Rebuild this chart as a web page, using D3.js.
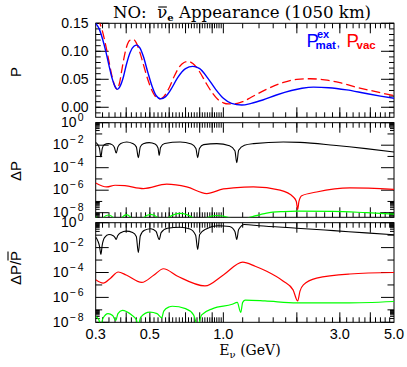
<!DOCTYPE html>
<html><head><meta charset="utf-8">
<script src="https://cdn.jsdelivr.net/npm/d3@7"></script>
<style>body{margin:0;background:#fff}svg{display:block}</style>
</head><body>
<svg id="c" width="407" height="367"></svg>
<script>
// ---------- DATA ----------
// Panel 1: probabilities
const E_vac = [0.300,0.310,0.320,0.330,0.340,0.350,0.360,0.367,0.375,0.385,0.395,0.405,0.415,0.428,0.440,0.455,0.470,0.490,0.510,0.530,0.550,0.570,0.600,0.630,0.660,0.690,0.718,0.750,0.800,0.850,0.900,0.950,1.000,1.050,1.100,1.200,1.300,1.500,1.750,2.000,2.270,2.600,3.000,3.500,4.000,4.500,5.000];
const P_vac = [0.156,0.152,0.135,0.110,0.082,0.055,0.037,0.032,0.042,0.070,0.096,0.113,0.120,0.121,0.115,0.098,0.077,0.050,0.030,0.018,0.015,0.019,0.035,0.056,0.072,0.080,0.082,0.078,0.063,0.043,0.026,0.014,0.008,0.006,0.006,0.010,0.018,0.032,0.044,0.050,0.051,0.049,0.044,0.036,0.030,0.025,0.021];
const E_mat = [0.300,0.310,0.320,0.330,0.340,0.350,0.360,0.368,0.377,0.390,0.400,0.415,0.430,0.442,0.455,0.470,0.490,0.510,0.530,0.554,0.580,0.610,0.650,0.700,0.749,0.800,0.860,0.930,1.000,1.080,1.190,1.300,1.450,1.650,1.900,2.100,2.340,2.700,3.200,3.800,4.400,5.000];
const P_mat = [0.150,0.140,0.122,0.100,0.075,0.052,0.037,0.032,0.037,0.055,0.075,0.098,0.109,0.111,0.106,0.091,0.063,0.038,0.021,0.015,0.019,0.032,0.053,0.069,0.073,0.069,0.053,0.032,0.016,0.007,0.004,0.007,0.013,0.022,0.030,0.034,0.036,0.035,0.031,0.025,0.020,0.016];

// Panel 2: Delta P
const E_dPk = [0.300,0.306,0.311,0.315,0.319,0.325,0.338,0.350,0.358,0.364,0.370,0.380,0.402,0.425,0.440,0.4485,0.457,0.470,0.497,0.525,0.540,0.546,0.553,0.575,0.665,0.740,0.772,0.785,0.798,0.830,0.940,1.060,1.115,1.135,1.155,1.220,1.330,1.760,2.060,2.830,3.840,5.000];
const dPk = [1.78e-2,1.12e-2,5.0e-3,8.9e-4,5.0e-3,1.12e-2,1.38e-2,1.12e-2,6.3e-3,2.0e-3,7.1e-3,1.41e-2,1.9e-2,1.41e-2,7.1e-3,7.9e-4,7.1e-3,1.32e-2,1.7e-2,1.26e-2,5.6e-3,1.26e-3,6.3e-3,1.41e-2,1.9e-2,1.26e-2,5.0e-3,7.9e-4,5.0e-3,1.12e-2,1.38e-2,8.9e-3,3.2e-3,2.75e-4,3.5e-3,1.0e-2,1.38e-2,1.9e-2,1.78e-2,1.0e-2,5.0e-3,2.5e-3];
const E_dPr = [0.300,0.333,0.360,0.395,0.470,0.586,0.708,0.855,1.000,1.099,1.327,1.707,1.935,1.990,2.016,2.040,2.094,2.410,3.300,5.000];
const dPr = [4.4e-6,1.95e-6,2.75e-6,2.5e-6,1.4e-6,3.4e-6,1.95e-6,5.0e-7,1.3e-6,1.6e-6,1.95e-6,1.0e-6,2.5e-7,1.0e-7,1.9e-8,1.0e-7,3.2e-7,6.9e-7,1.6e-6,1.2e-6];
const E_dPg = [0.300,0.307,0.315,0.322,0.338,0.355,0.364,0.383,0.402,0.420,0.4485,0.470,0.504,0.540,0.565,0.595,0.665,0.750,0.800,0.855,0.939,1.060,1.150,1.266,1.327,1.505,1.761,2.016,2.820,3.860,5.000];
const dPg = [4.4e-9,2.5e-9,6.3e-10,3.5e-9,6.2e-9,3.5e-9,6.3e-10,3.5e-9,6.6e-9,3.5e-9,6.3e-10,3.5e-9,7.1e-9,3.5e-9,6.3e-10,3.5e-9,8.7e-9,3.5e-9,6.3e-10,3.5e-9,5.6e-9,3.5e-9,6.3e-10,3.5e-9,4.7e-9,9.3e-9,1.26e-8,1.38e-8,1.32e-8,1.0e-8,7.6e-9];

// Panel 3: Delta P / P-bar
const E_rk = [0.300,0.306,0.311,0.315,0.319,0.326,0.340,0.354,0.360,0.364,0.369,0.380,0.400,0.425,0.440,0.4485,0.457,0.475,0.505,0.530,0.546,0.556,0.590,0.665,0.730,0.770,0.785,0.800,0.850,0.950,1.060,1.115,1.135,1.155,1.220,1.400,2.000,2.830,3.840,5.000];
const rk = [7.1e-2,3.5e-2,1.26e-2,2.8e-3,1.6e-2,6.3e-2,0.112,8.9e-2,6.3e-2,4.5e-2,8.9e-2,0.158,0.209,0.166,7.9e-2,4.0e-3,8.9e-2,0.251,0.331,0.2,4.5e-2,0.158,0.355,0.437,0.316,0.1,7.1e-3,0.112,0.316,0.562,0.501,0.2,4.5e-2,0.282,0.708,0.562,0.363,0.229,0.151,0.107];
const E_rr = [0.300,0.322,0.345,0.371,0.400,0.463,0.520,0.568,0.650,0.841,1.000,1.200,1.350,1.505,1.761,1.930,2.016,2.060,2.127,2.410,3.300,5.000];
const rr = [2.6e-5,1.4e-5,3.5e-5,1.1e-4,6.3e-5,1.6e-5,6.3e-5,2.0e-4,5.0e-5,8.3e-6,6.3e-5,6.8e-4,3.2e-4,1.26e-4,2.0e-5,4.0e-6,5.2e-7,3.2e-6,1.0e-5,3.5e-5,7.6e-5,1.0e-4];
const E_rg = [0.300,0.309,0.315,0.321,0.337,0.352,0.3625,0.370,0.3855,0.420,0.440,0.4485,0.458,0.4997,0.535,0.5592,0.570,0.599,0.618,0.700,0.755,0.785,0.815,0.905,1.087,1.140,1.178,1.200,1.230,1.480,2.000,3.150,5.000];
const rg = [2.95e-8,1.6e-8,5.0e-9,2.0e-8,4.9e-8,3.5e-8,1.4e-8,5.0e-8,9.1e-8,4.0e-8,1.6e-8,5.0e-9,2.5e-8,6.6e-8,5.0e-8,2.3e-8,7.9e-8,1.7e-7,1.95e-7,1.26e-7,4.0e-8,5.0e-9,4.0e-8,1.26e-7,2.8e-7,4.0e-7,6.3e-8,4.0e-7,6.0e-7,5.2e-7,3.6e-7,3.6e-7,4.7e-7];

// Tick labels
const xTickVals = [0.3,0.5,1.0,3.0,5.0];
const xTickLabels = ["0.3","0.5","1.0","3.0","5.0"];
const xMajor = [0.4,0.5,0.6,0.7,0.8,0.9,1,2,3,4];
const p1TickVals = [0,0.05,0.10,0.15];
const p1TickLabels = ["0.00","0.05","0.10","0.15"];
const logLabelExps = [0,-2,-4,-6,-8];

// ---------- LAYOUT ----------
const svg = d3.select('#c');
const X0 = 95.7, X1 = 394;
const x = d3.scaleLog().domain([0.3,5]).range([X0,X1]);
const P = [
  {top:23.3, bot:117.3},
  {top:122.7, bot:217.3},
  {top:222.7, bot:322.3}
];
const y1 = d3.scaleLinear().domain([-0.0179,0.15]).range([P[0].bot,P[0].top]);
const y2 = d3.scaleLog().domain([Math.pow(10,-8.41),1]).range([P[1].bot,P[1].top]);
const y3 = d3.scaleLog().domain([1e-8,1]).range([P[2].bot,P[2].top]);
const ys = [y1,y2,y3];

const defs = svg.append('defs');
P.forEach((p,i)=>{
  defs.append('clipPath').attr('id','clip'+i).append('rect')
    .attr('x',X0).attr('y',p.top).attr('width',X1-X0).attr('height',p.bot-p.top);
});

// ticks
const xMinor = d3.range(0.32,0.995,0.02).concat(d3.range(1.2,4.95,0.2));
let tp = '';
function seg(x1,y1_,x2,y2_){ tp += `M${x1},${y1_}L${x2},${y2_}`; }
P.forEach((p,i)=>{
  xMajor.forEach(v=>{ const xx=x(v); seg(xx,p.top,xx,p.top+10); seg(xx,p.bot,xx,p.bot-10); });
  xMinor.forEach(v=>{ const xx=x(v); seg(xx,p.top,xx,p.top+5); seg(xx,p.bot,xx,p.bot-5); });
});
p1TickVals.forEach(v=>{ const yy=y1(v); seg(X0,yy,X0+13,yy); seg(X1,yy,X1-13,yy); });
d3.range(-0.01,0.151,0.01).forEach(v=>{ const yy=y1(v); seg(X0,yy,X0+5,yy); seg(X1,yy,X1-5,yy); });
[y2,y3].forEach(sc=>{
  const [lo,hi] = sc.domain();
  d3.range(-8,1).forEach(e=>{
    const v=Math.pow(10,e); if(v<lo*0.999||v>hi*1.001) return;
    const yy=sc(v), L=(e%2===0)?13:6.5;
    seg(X0,yy,X0+L,yy); seg(X1,yy,X1-L,yy);
  });
  [-9,-8,-1].forEach(e=>{
    d3.range(2,10).forEach(k=>{
      const v=k*Math.pow(10,e); if(v<lo||v>hi) return;
      const yy=sc(v); seg(X0,yy,X0+4,yy); seg(X1,yy,X1-4,yy);
    });
  });
});
svg.append('path').attr('d',tp).attr('stroke','#000').attr('stroke-width',1).attr('fill','none');

// frames
P.forEach(p=>{
  svg.append('rect').attr('x',X0).attr('y',p.top).attr('width',X1-X0).attr('height',p.bot-p.top)
    .attr('fill','none').attr('stroke','#000').attr('stroke-width',1);
});

// curves
function curve(i, xs, vs, color, dash, w){
  const sc = ys[i];
  const line = d3.line().x((d,j)=>x(xs[j])).y((d,j)=>sc(vs[j])).curve(d3.curveMonotoneX);
  svg.append('path').datum(xs).attr('d',line).attr('clip-path',`url(#clip${i})`)
    .attr('fill','none').attr('stroke',color).attr('stroke-width',w)
    .attr('stroke-dasharray',dash||null);
}
curve(0,E_vac,P_vac,'#ff0000','9,4',1.3);
curve(0,E_mat,P_mat,'#0000ff',null,1.4);
curve(1,E_dPk,dPk,'#000000',null,1.1);
curve(1,E_dPr,dPr,'#ff0000',null,1.2);
curve(1,E_dPg,dPg,'#00ff00',null,1.2);
curve(2,E_rk,rk,'#000000',null,1.1);
curve(2,E_rr,rr,'#ff0000',null,1.2);
curve(2,E_rg,rg,'#00ff00',null,1.2);

// tick labels
const SANS = 'Liberation Sans, Arial, sans-serif';
const SERIF = 'DejaVu Serif, serif';
xTickVals.forEach((v,i)=>{
  svg.append('text').attr('x',x(v)).attr('y',338.5).attr('text-anchor','middle')
    .style('font-family',SANS).style('font-size','14.5px').text(xTickLabels[i]);
});
p1TickVals.forEach((v,i)=>{
  svg.append('text').attr('x',88.5).attr('y',y1(v)+5).attr('text-anchor','end')
    .style('font-family',SANS).style('font-size','14px').text(p1TickLabels[i]);
});
[y2,y3].forEach(sc=>{
  logLabelExps.forEach(e=>{
    const t = svg.append('text').attr('x',83.5).attr('y',sc(Math.pow(10,e))+4.2).attr('text-anchor','end')
      .style('font-family',SANS).style('font-size','14px');
    t.append('tspan').text('10');
    t.append('tspan').attr('dy',-6).attr('dx',1).style('font-size','10.5px')
      .text(e===0?'0':'\u2212\u2009'+(-e));
  });
});

// title
const title = svg.append('text').attr('x',113).attr('y',18)
  .style('font-family',SERIF).style('font-size','15px').style('white-space','pre');
title.append('tspan').text('NO:  ');
title.append('tspan').text('\u03bd');
title.append('tspan').attr('dy',3).style('font-size','10px').style('font-weight','bold').text('e');
title.append('tspan').attr('dy',-3).text(' Appearance (1050 km)');
{
  const len = title.node().getComputedTextLength();
  const fs = 15*259/len;
  title.style('font-size',fs+'px');
  const r = title.node().getExtentOfChar(5);
  svg.append('line').attr('x1',r.x+1).attr('x2',r.x+r.width-0.5).attr('y1',7).attr('y2',7)
    .attr('stroke','#000').attr('stroke-width',1.1);
}

// legend
function lt(xx,yy,txt,col,fs,bold){
  return svg.append('text').attr('x',xx).attr('y',yy).style('font-family',SANS)
    .style('font-size',fs+'px').style('font-weight',bold?'bold':'normal').attr('fill',col).text(txt);
}
lt(306.5,46.8,'P','#0000ff',18.5,false);
lt(317,37.5,'ex','#0000ff',11,true);
lt(315.5,49,'mat','#0000ff',11.5,true);
lt(336.5,46.8,',','#0000ff',13,false);
lt(346.5,46.8,'P','#ff0000',18.5,false);
lt(356.5,49,'vac','#ff0000',11.5,true);

// y labels
function ylab(cy, txt){
  const g = svg.append('g').attr('transform',`translate(21,${cy}) rotate(-90)`);
  const t = g.append('text').attr('x',0).attr('y',0).attr('text-anchor','middle')
    .style('font-family',SANS).style('font-size','15px').text(txt);
  return {g,t};
}
ylab(72,'P');
ylab(171,'\u0394P');
{
  const {g,t} = ylab(268,'\u0394P/P');
  const r = t.node().getExtentOfChar(3);
  g.append('line').attr('x1',r.x+0.5).attr('x2',r.x+r.width-0.5).attr('y1',-13).attr('y2',-13)
    .attr('stroke','#000').attr('stroke-width',1.1);
}

// x label
{
  const t = svg.append('text').attr('x',250).attr('y',355).attr('text-anchor','middle')
    .style('font-family',SERIF).style('font-size','14px');
  t.append('tspan').text('E');
  t.append('tspan').attr('dy',3).style('font-size','10px').text('\u03bd');
  t.append('tspan').attr('dy',-3).text(' (GeV)');
}
</script>
</body></html>
